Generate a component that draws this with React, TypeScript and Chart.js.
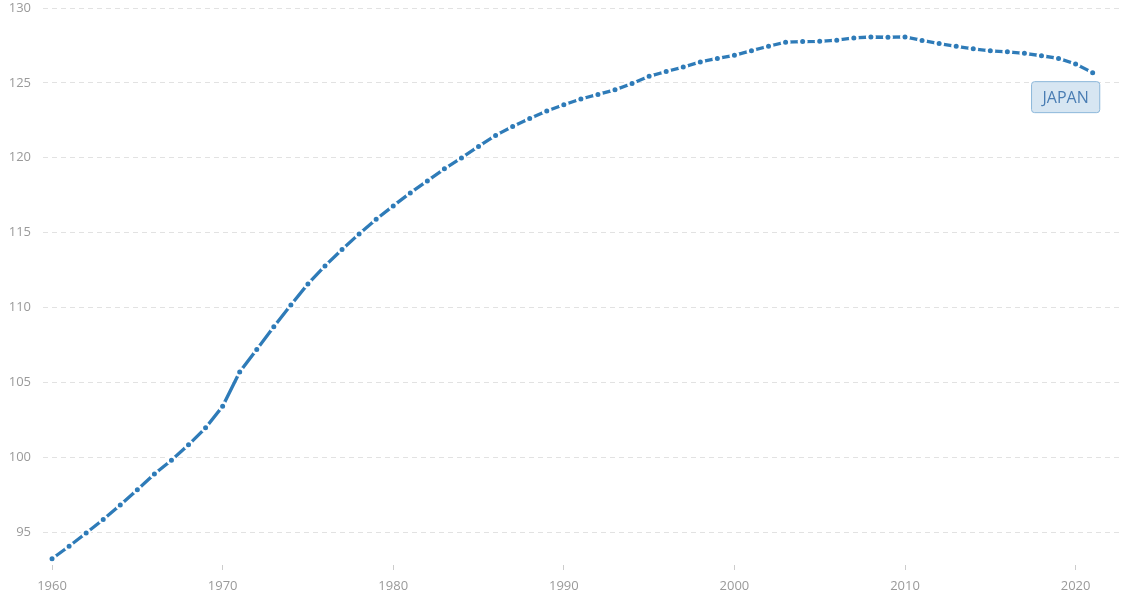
import React, { useEffect, useRef } from "react";
import { Chart, registerables } from "chart.js";

Chart.register(...registerables);

const years: number[] = [
  1960, 1961, 1962, 1963, 1964, 1965, 1966, 1967, 1968, 1969,
  1970, 1971, 1972, 1973, 1974, 1975, 1976, 1977, 1978, 1979,
  1980, 1981, 1982, 1983, 1984, 1985, 1986, 1987, 1988, 1989,
  1990, 1991, 1992, 1993, 1994, 1995, 1996, 1997, 1998, 1999,
  2000, 2001, 2002, 2003, 2004, 2005, 2006, 2007, 2008, 2009,
  2010, 2011, 2012, 2013, 2014, 2015, 2016, 2017, 2018, 2019,
  2020, 2021,
];

const population: number[] = [
  93.216, 94.055, 94.933, 95.833, 96.812, 97.826, 98.883, 99.79, 100.825, 101.961,
  103.402, 105.697, 107.188, 108.708, 110.162, 111.573, 112.775, 113.872, 114.913, 115.89,
  116.782, 117.648, 118.449, 119.259, 119.987, 120.754, 121.492, 122.091, 122.613, 123.116,
  123.537, 123.921, 124.229, 124.536, 124.961, 125.439, 125.757, 126.057, 126.4, 126.631,
  126.843, 127.149, 127.445, 127.718, 127.761, 127.773, 127.854, 128.001, 128.063, 128.047,
  128.07, 127.833, 127.629, 127.445, 127.276, 127.141, 127.076, 126.972, 126.811, 126.633,
  126.261, 125.682,
];

const xTicks: number[] = [1960, 1970, 1980, 1990, 2000, 2010, 2020];
const yTicks: number[] = [95, 100, 105, 110, 115, 120, 125, 130];
const seriesName = "JAPAN";

const lineColor = "#2e7bb8";

const labelPlugin = {
  id: "seriesLabel",
  afterDatasetsDraw(chart: any) {
    const meta = chart.getDatasetMeta(0);
    const last = meta.data[meta.data.length - 1];
    if (!last) return;
    const ctx = chart.ctx;
    ctx.save();
    ctx.font = "16px 'Open Sans'";
    const tw = ctx.measureText(seriesName).width;
    const w = tw + 22;
    const h = 31;
    const cx = last.x - 27;
    const top = last.y + 9;
    const left = cx - w / 2;
    ctx.beginPath();
    const r = 3;
    ctx.moveTo(left + r, top);
    ctx.lineTo(left + w - r, top);
    ctx.quadraticCurveTo(left + w, top, left + w, top + r);
    ctx.lineTo(left + w, top + h - r);
    ctx.quadraticCurveTo(left + w, top + h, left + w - r, top + h);
    ctx.lineTo(left + r, top + h);
    ctx.quadraticCurveTo(left, top + h, left, top + h - r);
    ctx.lineTo(left, top + r);
    ctx.quadraticCurveTo(left, top, left + r, top);
    ctx.closePath();
    ctx.fillStyle = "#d7e6f2";
    ctx.fill();
    ctx.lineWidth = 1;
    ctx.strokeStyle = "#8cb7da";
    ctx.stroke();
    ctx.fillStyle = "#4a7db3";
    ctx.textAlign = "center";
    ctx.textBaseline = "middle";
    ctx.fillText(seriesName, cx, top + h / 2 + 1);
    ctx.restore();
  },
};

export default function App() {
  const ref = useRef<HTMLCanvasElement>(null);

  useEffect(() => {
    document.body.style.margin = "0";
    const canvas = ref.current;
    if (!canvas) return;
    const chart = new Chart(canvas, {
      type: "line",
      data: {
        datasets: [
          {
            label: seriesName,
            data: years.map((y, i) => ({ x: y, y: population[i] })),
            borderColor: lineColor,
            backgroundColor: lineColor,
            borderWidth: 3.3,
            pointRadius: 3.75,
            pointBorderWidth: 2.5,
            pointBorderColor: "#ffffff",
            pointBackgroundColor: lineColor,
            tension: 0,
            fill: false,
          },
        ],
      },
      options: {
        animation: false,
        responsive: false,
        devicePixelRatio: 1,
        layout: { padding: { top: 8, right: 14, left: 0, bottom: 0 } },
        plugins: {
          legend: { display: false },
          tooltip: { enabled: false },
        },
        scales: {
          x: {
            type: "linear",
            min: 1959.47,
            max: 2022.72,
            afterBuildTicks: (axis: any) => {
              axis.ticks = xTicks.map((v) => ({ value: v }));
            },
            afterFit: (axis: any) => {
              axis.height = 48;
              axis.paddingLeft = 0;
              axis.paddingRight = 0;
            },
            border: { display: false },
            grid: {
              drawOnChartArea: false,
              drawTicks: true,
              tickLength: 5,
              color: "#cccccc",
              tickWidth: 1,
            },
            ticks: {
              color: "#9a9a9a",
              font: { family: "'Open Sans'", size: 13 },
              padding: 8,
              maxRotation: 0,
              autoSkip: false,
              callback: (v: any) => String(v),
            },
          },
          y: {
            type: "linear",
            min: 92.8,
            max: 130,
            afterBuildTicks: (axis: any) => {
              axis.ticks = yTicks.map((v) => ({ value: v }));
            },
            afterFit: (axis: any) => {
              axis.width = 43;
              axis.paddingTop = 0;
              axis.paddingBottom = 0;
            },
            border: { display: false, dash: [5, 4] },
            grid: {
              color: "#e2e2e2",
              lineWidth: 1,
              drawTicks: false,
            },
            ticks: {
              color: "#9a9a9a",
              font: { family: "'Open Sans'", size: 13 },
              padding: 12,
              callback: (v: any) => String(v),
            },
          },
        },
      },
      plugins: [labelPlugin],
    } as any);
    return () => chart.destroy();
  }, []);

  return (
    <div style={{ width: 1136, height: 613 }}>
      <canvas ref={ref} width={1136} height={613} />
    </div>
  );
}
